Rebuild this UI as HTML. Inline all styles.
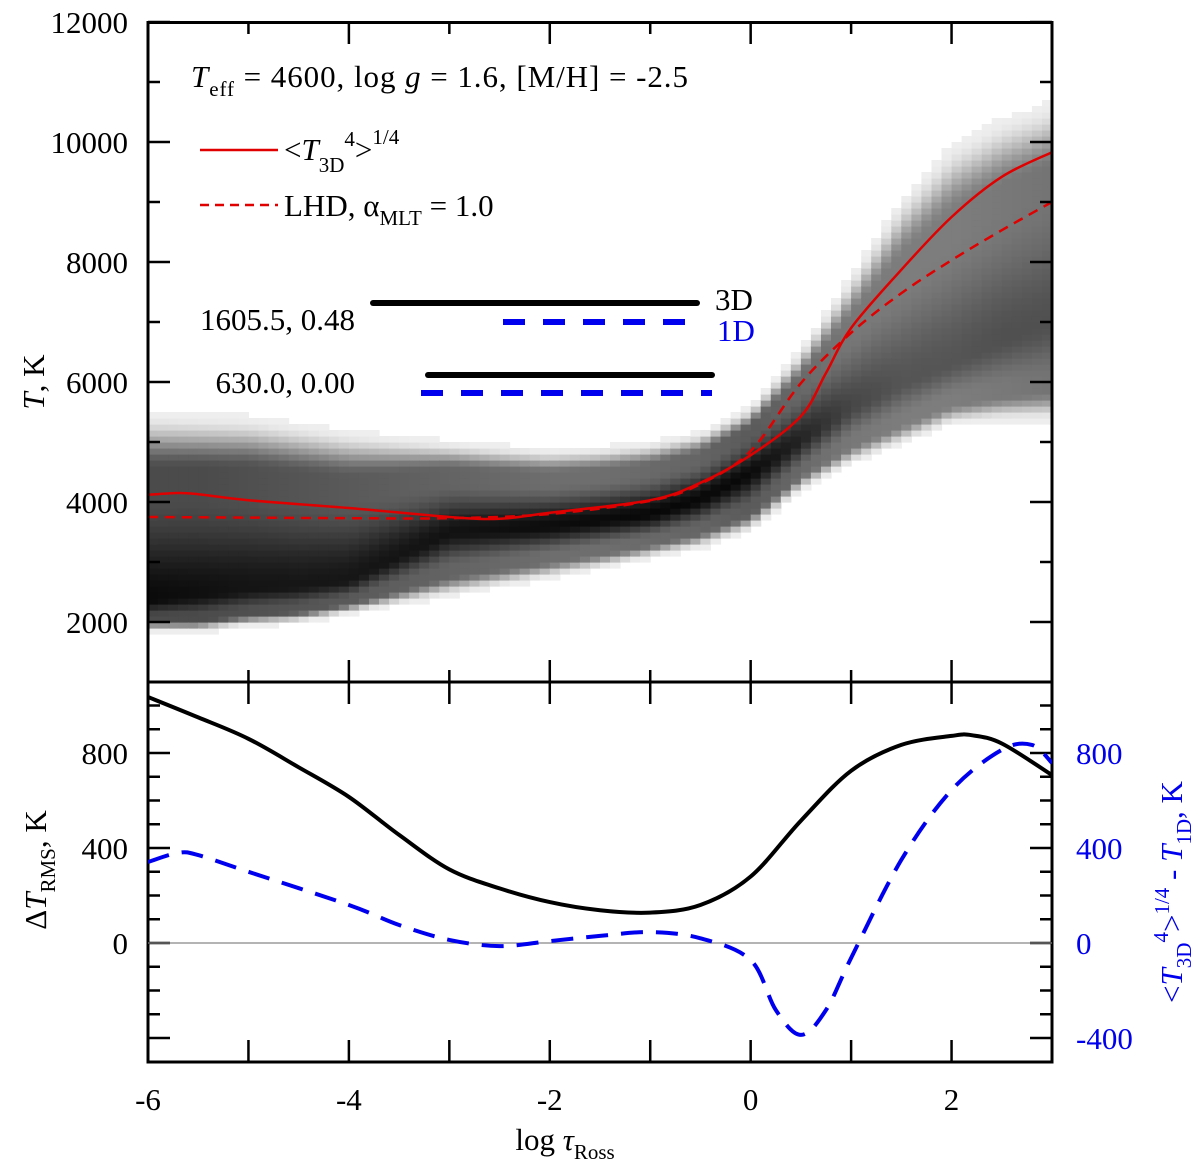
<!DOCTYPE html>
<html><head><meta charset="utf-8"><style>
html,body{margin:0;padding:0;background:#fff}
svg{display:block;font-family:"Liberation Serif",serif}
</style></head><body>
<svg id="chart" width="1200" height="1172" viewBox="0 0 1200 1172" xmlns="http://www.w3.org/2000/svg">
<g id="heat"></g>
<g id="curves"></g>
<g id="axes"></g>
<g id="bottom"></g>
<g font-size="31">
<text x="191" y="87" textLength="497"><tspan font-style="italic">T</tspan><tspan font-size="21" dy="9">eff</tspan><tspan dy="-9"> = 4600, log </tspan><tspan font-style="italic">g</tspan><tspan> = 1.6, [M/H] = -2.5</tspan></text>
<line x1="200" y1="150" x2="278" y2="150" stroke="#e00000" stroke-width="2.5"/>
<text x="284" y="160">&lt;<tspan font-style="italic">T</tspan><tspan font-size="21" dy="12">3D</tspan><tspan font-size="21" dy="-26">4</tspan><tspan dy="14">&gt;</tspan><tspan font-size="21" dy="-16">1/4</tspan></text>
<line x1="200" y1="205" x2="278" y2="205" stroke="#e00000" stroke-width="2.5" stroke-dasharray="9,6"/>
<text x="284" y="216">LHD, α<tspan font-size="21" dy="9">MLT</tspan><tspan dy="-9"> = 1.0</tspan></text>
<text x="355" y="330" text-anchor="end">1605.5, 0.48</text>
<line x1="373" y1="303" x2="697" y2="303" stroke="#000" stroke-width="6" stroke-linecap="round"/>
<line x1="503" y1="322" x2="697" y2="322" stroke="#0000ee" stroke-width="6" stroke-dasharray="22,18"/>
<text x="715" y="310">3D</text>
<text x="717" y="341" fill="#0000ee">1D</text>
<text x="355" y="393" text-anchor="end">630.0, 0.00</text>
<line x1="428" y1="375" x2="712" y2="375" stroke="#000" stroke-width="6" stroke-linecap="round"/>
<line x1="421" y1="393" x2="712" y2="393" stroke="#0000ee" stroke-width="6" stroke-dasharray="22,18"/>
<text transform="translate(44,382) rotate(-90)" text-anchor="middle"><tspan font-style="italic">T</tspan>, K</text>
<text transform="translate(46,870) rotate(-90)" text-anchor="middle">Δ<tspan font-style="italic">T</tspan><tspan font-size="21" dy="9">RMS</tspan><tspan dy="-9">, K</tspan></text>
<text fill="#0000ee" transform="translate(1182,892) rotate(-90)" text-anchor="middle">&lt;<tspan font-style="italic">T</tspan><tspan font-size="21" dy="9">3D</tspan><tspan font-size="21" dy="-23">4</tspan><tspan dy="14">&gt;</tspan><tspan font-size="21" dy="-13">1/4</tspan><tspan dy="13"> - </tspan><tspan font-style="italic">T</tspan><tspan font-size="21" dy="9">1D</tspan><tspan dy="-9">, K</tspan></text>
<text x="565" y="1150" text-anchor="middle">log <tspan font-style="italic">τ</tspan><tspan font-size="21" dy="9">Ross</tspan></text>
</g>
</svg>
<script>
// ---- data ----
const bandX = [-6,-5.5,-5,-4.5,-4,-3.5,-3,-2.5,-2,-1.5,-1,-0.5,0,0.5,1,1.5,2,2.5,3];
const bandTop = [5480,5450,5420,5300,5170,5080,5000,4930,4870,4900,4980,5150,5580,6530,7750,9030,9920,10370,10650];
const bandBot = [1870,1850,1950,2000,2150,2300,2450,2600,2750,2900,3080,3250,3530,4200,4650,4980,5320,5370,5370];
const bandCore = [2370,2450,2550,2600,2700,3100,3500,3550,3600,3700,3800,4050,4480,5030,5580,5980,6320,6700,7000];
const bandDark = [10,15,20,22,22,20,18,15,12,10,8,8,10,35,70,85,85,80,80];
const bandMid = [75,75,80,85,90,95,100,105,110,110,105,100,90,105,120,125,125,120,115];

const meanX = [-6,-5.7,-5.5,-5,-4,-3,-2.5,-2,-1,-0.5,0,0.5,0.75,1,1.5,2,2.5,3];
const meanT = [4120,4150,4130,4030,3900,3750,3720,3820,4030,4320,4780,5430,6150,6900,7870,8750,9420,9830];
const lhdX = [-6,-5,-4,-3,-2,-1,-0.5,0,0.5,1,1.5,2,2.5,3];
const lhdT = [3750,3740,3730,3730,3800,4020,4300,4850,5980,6820,7480,8030,8530,9000];

const rmsX = [-6,-5.5,-5,-4.5,-4,-3.5,-3,-2.5,-2,-1.5,-1,-0.5,0,0.5,1,1.5,2,2.2,2.5,3];
const rmsV = [1036,950,860,740,615,455,310,230,172,138,128,160,280,515,725,834,872,875,840,707];
const diffX = [-6,-5.7,-5.5,-5,-4,-3.5,-3,-2.5,-2,-1.5,-1,-0.5,0,0.25,0.5,0.75,1,1.5,2,2.5,2.8,3];
const diffV = [341,380,370,300,160,76,13,-13,8,30,46,20,-72,-282,-387,-282,-63,350,644,813,834,758];

const xTicks = [-6,-4,-2,0,2];
const topYTicks = [2000,4000,6000,8000,10000,12000];
const botYTicks = [0,400,800];
const rightYTicks = [-400,0,400,800];

// ---- scales ----
const X0=148, X1=1052;
const sx = v => X0 + (v+6)*(X1-X0)/9;
const syT = t => 682 - (t-1000)*0.06;
const syB = v => 943 - v*0.2375;
const NS='http://www.w3.org/2000/svg';
function mk(tag, parent, attrs){const e=document.createElementNS(NS,tag);for(const k in attrs)e.setAttribute(k,attrs[k]);parent.appendChild(e);return e;}
function interp(xs, ys, x){
  if(x<=xs[0])return ys[0];
  for(let i=1;i<xs.length;i++){if(x<=xs[i]){const f=(x-xs[i-1])/(xs[i]-xs[i-1]);return ys[i-1]+f*(ys[i]-ys[i-1]);}}
  return ys[ys.length-1];
}
function smoothPath(xs, ys, fx, fy){
  const p=xs.map((x,i)=>[fx(x),fy(ys[i])]);
  let d='M'+p[0][0].toFixed(1)+','+p[0][1].toFixed(1);
  for(let i=0;i<p.length-1;i++){
    const a=p[Math.max(0,i-1)],b=p[i],c=p[i+1],e=p[Math.min(p.length-1,i+2)];
    const c1=[b[0]+(c[0]-a[0])/6,b[1]+(c[1]-a[1])/6],c2=[c[0]-(e[0]-b[0])/6,c[1]-(e[1]-b[1])/6];
    d+=' C'+c1[0].toFixed(1)+','+c1[1].toFixed(1)+' '+c2[0].toFixed(1)+','+c2[1].toFixed(1)+' '+c[0].toFixed(1)+','+c[1].toFixed(1);
  }
  return d;
}
const sm = t => t<=0?0:t>=1?1:t*t*(3-2*t);

// ---- heatmap ----
const heat=document.getElementById('heat');
const cw=0.1, ch=100;
for(let x=-6; x<3-1e-6; x+=cw){
  const xc=x+cw/2;
  const top=interp(bandX,bandTop,xc), bot=interp(bandX,bandBot,xc), core=interp(bandX,bandCore,xc), dark=interp(bandX,bandDark,xc), mid=interp(bandX,bandMid,xc);
  for(let t=Math.floor(bot/ch)*ch; t<top; t+=ch){
    const tc=t+ch/2;
    if(tc<bot-30||tc>top+30)continue;
    let d = tc>=core ? (tc-core)/(top-core) : (core-tc)/(core-bot);
    d=Math.min(1,Math.max(0,d));
    let g = dark + (mid-dark)*sm(d/0.55);
    g = g + (238-g)*sm((d-0.7)/0.3);
    g=Math.round(g);
    const r=mk('rect',heat,{x:sx(x).toFixed(1),y:syT(t+ch).toFixed(1),width:(sx(x+cw)-sx(x)+0.6).toFixed(1),height:(ch*0.06+0.6).toFixed(1),fill:`rgb(${g},${g},${g})`});
    
    
  }
}

// ---- top curves ----
const curves=document.getElementById('curves');
const pm=mk('path',curves,{d:smoothPath(meanX,meanT,sx,syT),fill:'none',stroke:'#e00000','stroke-width':2.5});


const pl=mk('path',curves,{d:smoothPath(lhdX,lhdT,sx,syT),fill:'none',stroke:'#e00000','stroke-width':2.5,'stroke-dasharray':'10,7'});



// ---- bottom curves ----
const bottom=document.getElementById('bottom');
const z=mk('line',bottom,{x1:X0,x2:X1,y1:syB(0),y2:syB(0),stroke:'#888','stroke-width':1.2});


const clip=mk('clipPath',bottom,{id:'bclip'});
mk('rect',clip,{x:X0,y:682,width:X1-X0,height:381});
const pr=mk('path',bottom,{d:smoothPath(rmsX,rmsV,sx,syB),fill:'none',stroke:'#000','stroke-width':4,'clip-path':'url(#bclip)'});


const pd=mk('path',bottom,{d:smoothPath(diffX,diffV,sx,syB),fill:'none',stroke:'#0000ee','stroke-width':4,'stroke-dasharray':'22,13','clip-path':'url(#bclip)'});



// ---- axes ----
const axes=document.getElementById('axes');
function ln(x1,y1,x2,y2,w,name){const l=mk('line',axes,{x1,y1,x2,y2,stroke:'#000','stroke-width':w});return l;}
function tx(x,y,s,anchor,fill,name){const t=mk('text',axes,{x,y,'text-anchor':anchor,'font-size':31,fill});t.textContent=s;return t;}
const fr=mk('rect',axes,{x:X0,y:22.5,width:X1-X0,height:1062-22.5,fill:'none',stroke:'#000','stroke-width':3});


ln(X0,682,X1,682,3,'panel-divider');
for(let t=2000;t<=12000;t+=1000){
  const maj=t%2000===0, L=maj?22:12, y=syT(t);
  ln(X0,y,X0+L,y,2.5,'y-tick-top');
  ln(X1,y,X1-L,y,2.5,'y-tick-top-right');
}
topYTicks.forEach(t=>tx(X0-20,syT(t)+11,String(t),'end','#000','y-tick-label-top'));
for(let v=-5;v<=2;v++){
  const x=sx(v), maj=v%2===0, L=maj?22:12;
  ln(x,22,x,22+L,2.5,'x-tick-top');
  ln(x,682,x,682-L,2.5,'x-tick-mid');
  ln(x,682,x,682+22,2.5,'x-tick-bottom-panel-top');
  ln(x,1062,x,1062-22,2.5,'x-tick-bottom');
}
xTicks.forEach(v=>tx(sx(v),1110,String(v),'middle','#000','x-tick-label'));
for(let v=-500;v<=1000;v+=100){
  const y=syB(v); if(y<684||y>1060)continue;
  const L=(v%400===0)?22:12;
  ln(X0,y,X0+L,y,2.5,'y-tick-bottom');
  ln(X1,y,X1-L,y,2.5,'y-tick-bottom-right');
}
botYTicks.forEach(v=>tx(X0-20,syB(v)+11,String(v),'end','#000','y-tick-label-bottom'));
rightYTicks.forEach(v=>tx(X1+24,syB(v)+11,String(v),'start','#0000ee','y-tick-label-right'));
</script>
</body></html>
